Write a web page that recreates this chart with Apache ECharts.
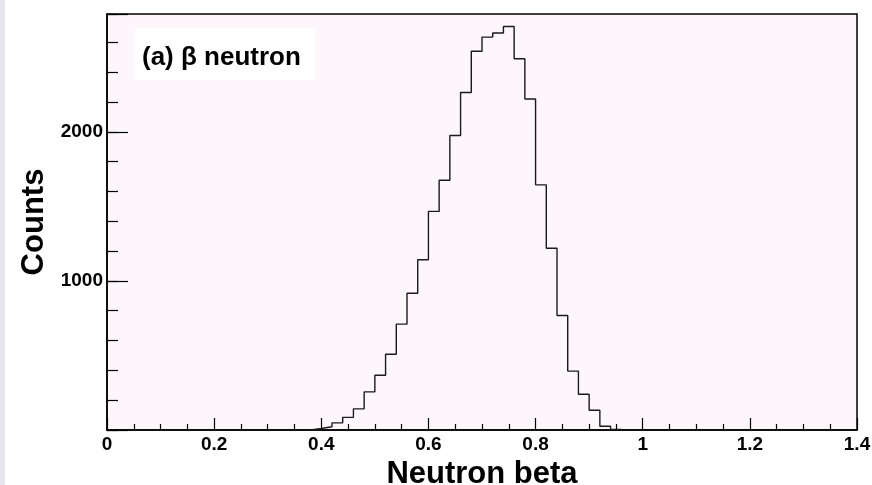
<!DOCTYPE html>
<html>
<head>
<meta charset="utf-8">
<script src="https://cdn.jsdelivr.net/npm/echarts@6/dist/echarts.min.js"></script>
<style>html,body{margin:0;padding:0;background:#fff;}#c{width:872px;height:485px;}</style>
</head>
<body>
<div id="c"></div>
<script>
// Histogram data: lower bin edges (beta) and counts
const binLow = [0.38,0.40,0.42,0.44,0.46,0.48,0.50,0.52,0.54,0.56,0.58,0.60,0.62,0.64,0.66,0.68,0.70,0.72,0.74,0.76,0.78,0.80,0.82,0.84,0.86,0.88,0.90,0.92,0.94];
const counts = [10,22,48,85,142,256,367,508,710,917,1142,1466,1675,1975,2264,2540,2635,2663,2706,2490,2220,1644,1219,768,395,240,132,25,4];
const binWidth = 0.02;
const xTicks = [0,0.2,0.4,0.6,0.8,1,1.2,1.4];
const yLabels = [1000,2000];
const labelText = '(a) β neutron';

const data = [[binLow[0], 0]];
binLow.forEach((x, i) => data.push([+(x + binWidth).toFixed(4), counts[i]]));
data.push([+(binLow[binLow.length-1] + binWidth).toFixed(4), 0]);

const font = 'Liberation Sans, Arial, Helvetica, sans-serif';
const chart = echarts.init(document.getElementById('c'), null, {renderer:'canvas'});
chart.setOption({
  animation: false,
  backgroundColor: '#ffffff',
  grid: {left:107, right:15, top:14, bottom:55, show:true, borderColor:'#000', borderWidth:1.5, backgroundColor:'#fdf7fc', outerBoundsMode:'none', containLabel:false},
  xAxis: {
    type:'value', min:0, max:1.4, interval:0.2,
    axisLine:{show:true, lineStyle:{color:'#000', width:1.5}},
    axisTick:{show:true, inside:true, length:12, lineStyle:{color:'#000', width:1.2}},
    minorTick:{show:true, splitNumber:4, length:6, lineStyle:{color:'#000', width:1.2}},
    splitLine:{show:false}, minorSplitLine:{show:false},
    axisLabel:{fontSize:19, fontWeight:'bold', color:'#000', margin:5, fontFamily:font,
      formatter: v => { const m = xTicks.find(t => Math.abs(t - v) < 1e-6); return m === undefined ? '' : String(m); }},
    name:'Neutron beta', nameLocation:'middle', nameGap:19,
    nameTextStyle:{fontSize:31, fontWeight:'bold', color:'#000', fontFamily:font}
  },
  yAxis: [{
    type:'value', min:0, max:2790, interval:1000, position:'left',
    axisLine:{show:true, lineStyle:{color:'#000', width:1.5}},
    axisTick:{show:true, inside:true, length:21, lineStyle:{color:'#000', width:1.2}},
    splitLine:{show:false},
    axisLabel:{fontSize:19, fontWeight:'bold', color:'#000', margin:4, fontFamily:font,
      formatter: v => yLabels.includes(v) ? String(v) : ''},
    name:'Counts', nameLocation:'middle', nameGap:53,
    nameTextStyle:{fontSize:31, fontWeight:'bold', color:'#000', fontFamily:font}
  },{
    type:'value', min:0, max:2790, interval:200, position:'left',
    axisLine:{show:false},
    axisTick:{show:true, inside:true, length:11, lineStyle:{color:'#000', width:1.2}},
    splitLine:{show:false}, axisLabel:{show:false}
  }],
  graphic: [
    {type:'rect', left:0, top:0, shape:{width:5, height:485}, style:{fill:'#e6e6ee'}, silent:true},
    {type:'rect', left:135, top:28, shape:{width:180, height:52}, style:{fill:'#ffffff'}, z:10},
    {type:'text', left:142, top:45, style:{text:labelText, font:'bold 26px ' + font, fill:'#000'}, z:11}
  ],
  series: [{
    type:'line', step:'start', data:data, symbol:'none', yAxisIndex:0,
    lineStyle:{color:'#1a1a1a', width:1.4}, z:5
  }]
});
</script>
</body>
</html>
